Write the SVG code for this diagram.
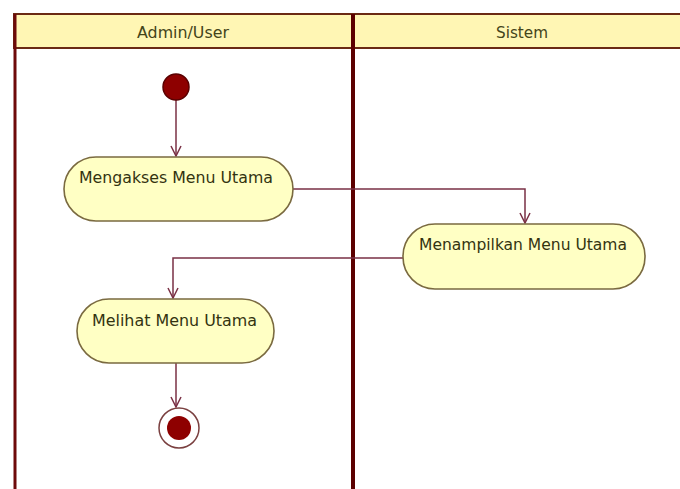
<svg xmlns="http://www.w3.org/2000/svg" width="680" height="489" viewBox="0 0 680 489">
<defs>
<style>
.hdr{fill:#fff6b4;stroke:#6b2a14;stroke-width:2}
.lane{fill:none;stroke:#6e0a0a;stroke-width:3}
.div{fill:none;stroke:#5c0000;stroke-width:4}
.act{fill:#ffffc4;stroke:#7a6a40;stroke-width:1.6}
.lbl{font-family:"DejaVu Sans","Liberation Sans",sans-serif;font-size:16px;fill:#333310}
.hl{font-family:"DejaVu Sans","Liberation Sans",sans-serif;font-size:15px;fill:#44441a;text-anchor:middle}
.con{fill:none;stroke:#7a3045;stroke-width:1.5}
</style>
<marker id="arr" viewBox="0 0 12 12" refX="11" refY="6" markerWidth="12" markerHeight="12" markerUnits="userSpaceOnUse" orient="auto">
<path d="M1,1 L11,6 L1,11" fill="none" stroke="#7a3045" stroke-width="1.5"/>
</marker>
</defs>
<rect width="680" height="489" fill="#ffffff"/>
<g id="swimlanes">
<rect class="hdr" x="14" y="14" width="680" height="34"/>
<line class="lane" x1="15" y1="14" x2="15" y2="489"/>
<line class="div" x1="353" y1="14" x2="353" y2="489"/>
<text class="hl" x="183" y="38" textLength="92" lengthAdjust="spacingAndGlyphs">Admin/User</text>
<text class="hl" x="522" y="38" textLength="52" lengthAdjust="spacingAndGlyphs">Sistem</text>
</g>
<g id="connectors">
<path class="con" d="M176,100 L176,156" marker-end="url(#arr)"/>
<path class="con" d="M293,189 L525,189 L525,223" marker-end="url(#arr)"/>
<path class="con" d="M403,258 L173,258 L173,298" marker-end="url(#arr)"/>
<path class="con" d="M176,363 L176,407" marker-end="url(#arr)"/>
</g>
<g id="start">
<circle cx="176" cy="87" r="13" fill="#8e0000" stroke="#5a0000" stroke-width="1.5"/>
</g>
<g id="mengakses">
<rect class="act" x="64" y="157" width="229" height="64" rx="32" ry="32"/>
<text class="lbl" x="79" y="183" textLength="194" lengthAdjust="spacingAndGlyphs">Mengakses Menu Utama</text>
</g>
<g id="menampilkan">
<rect class="act" x="403" y="224" width="242" height="65" rx="32" ry="32"/>
<text class="lbl" x="419" y="250" textLength="208" lengthAdjust="spacingAndGlyphs">Menampilkan Menu Utama</text>
</g>
<g id="melihat">
<rect class="act" x="77" y="299" width="197" height="64" rx="32" ry="32"/>
<text class="lbl" x="92" y="326" textLength="165" lengthAdjust="spacingAndGlyphs">Melihat Menu Utama</text>
</g>
<g id="end">
<circle cx="179" cy="428" r="20" fill="#ffffff" stroke="#7a4040" stroke-width="1.5"/>
<circle cx="179" cy="428" r="12" fill="#8e0000"/>
</g>
</svg>
